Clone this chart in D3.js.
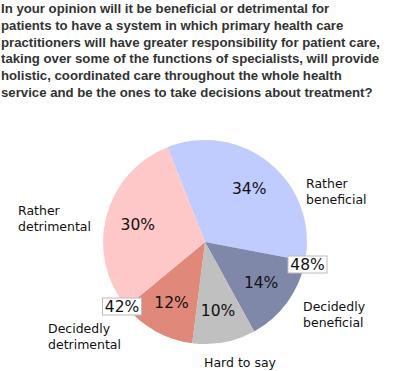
<!DOCTYPE html>
<html><head><meta charset="utf-8">
<script src="https://cdn.jsdelivr.net/npm/d3@7"></script>
<style>body{margin:0;background:#fff}svg{display:block}</style>
</head><body>
<svg id="c" width="400" height="371"></svg>
<script>
const titleLines = [
  "In your opinion will it be beneficial or detrimental for",
  "patients to have a system in which primary health care",
  "practitioners will have greater responsibility for patient care,",
  "taking over some of the functions of specialists, will provide",
  "holistic, coordinated care throughout the whole health",
  "service and be the ones to take decisions about treatment?"
];
const categories = ["Rather beneficial", "Decidedly beneficial", "Hard to say", "Decidedly detrimental", "Rather detrimental"];
const values = [34, 14, 10, 12, 30];
const colors = ["#c0cbfe", "#8088aa", "#c0c0c0", "#e0887a", "#ffc8c8"];
const labelLines = [["Rather","beneficial"],["Decidedly","beneficial"],["Hard to say"],["Decidedly","detrimental"],["Rather","detrimental"]];
const totals = [{text:"48%", cats:[0,1]}, {text:"42%", cats:[3,4]}];

const svg = d3.select("#c");
const t = svg.append("g");
titleLines.forEach((l,i)=>{
  t.append("text").attr("x",1).attr("y",13+i*16.8).text(l)
   .attr("font-family","Liberation Sans, Arial, sans-serif").attr("font-weight","bold")
   .attr("font-size",13.2).attr("fill","#333");
});

const cx=205, cy=242, r=102;
const startA = -21.6*Math.PI/180;
const pie = d3.pie().sort(null).value(d=>d).startAngle(startA).endAngle(startA+2*Math.PI);
const arcs = pie(values);
const arc = d3.arc().innerRadius(0).outerRadius(r);
const g = svg.append("g").attr("transform",`translate(${cx},${cy})`);
g.selectAll("path").data(arcs).join("path").attr("d",arc).attr("fill",(d,i)=>colors[i]);

const font = "DejaVu Sans, Verdana, sans-serif";
const inner = d3.arc().innerRadius(r*0.68).outerRadius(r*0.68);
g.selectAll("text.p").data(arcs).join("text").attr("class","p")
  .attr("transform",d=>`translate(${inner.centroid(d)})`)
  .attr("text-anchor","middle").attr("dy","0.36em")
  .attr("font-family",font).attr("font-size",15.5).attr("fill","#111")
  .text(d=>d.data+"%");

// outer category labels
const labelPos = [[306,188],[303,311],[204,367],[48,333],[18,215]];
labelLines.forEach((lines,i)=>{
  const tx = svg.append("text").attr("font-family",font).attr("font-size",12.5).attr("fill","#111");
  lines.forEach((s,j)=>{
    tx.append("tspan").attr("x",labelPos[i][0]).attr("y",labelPos[i][1]+j*15.5).text(s);
  });
});

// total boxes at the boundary of grouped slices
const boxPos = [[307.5,264.5],[122,306.5]];
totals.forEach((tt,k)=>{
  const gg = svg.append("g").attr("transform",`translate(${boxPos[k][0]},${boxPos[k][1]})`);
  gg.append("rect").attr("x",-19.5).attr("y",-8.5).attr("width",39).attr("height",17)
    .attr("fill","#fff").attr("stroke","#bbb");
  gg.append("text").attr("text-anchor","middle").attr("dy","0.36em")
    .attr("font-family",font).attr("font-size",15.5).attr("fill","#111").text(tt.text);
});
</script>
</body></html>
